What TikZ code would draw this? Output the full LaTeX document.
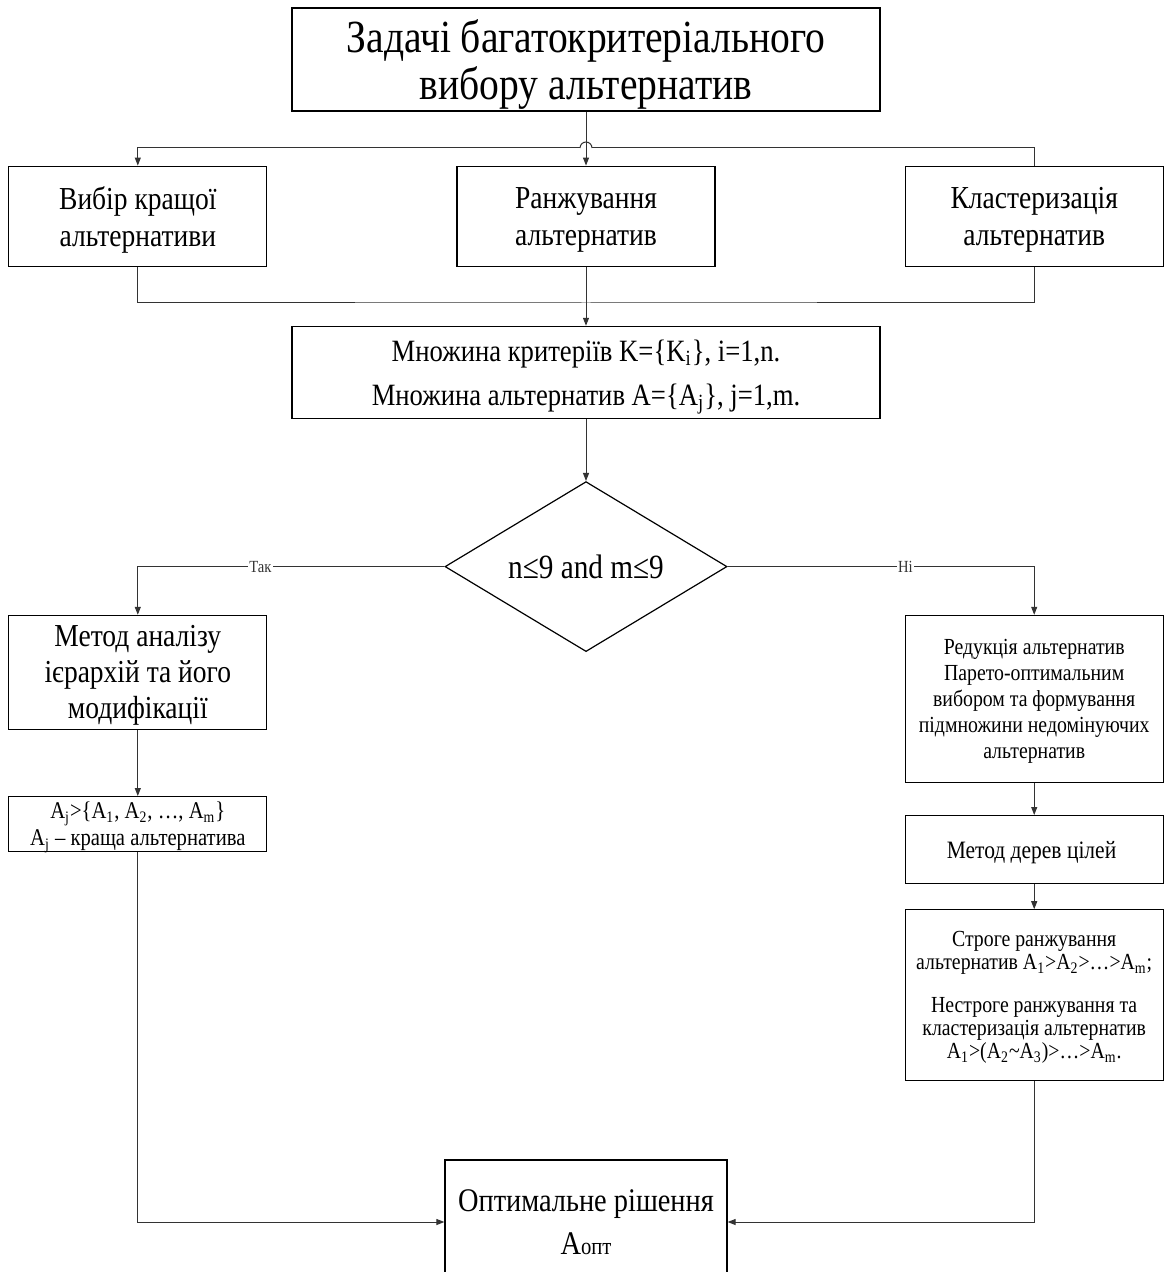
\documentclass[tikz,border=0pt]{standalone}
\usepackage{fontspec}
\setmainfont[FakeStretch=0.86]{Liberation Serif}
\usetikzlibrary{shapes.geometric, arrows.meta, positioning}

\newcommand{\fsz}[2]{\fontsize{#1}{#2}\selectfont}

\begin{document}
\begin{tikzpicture}[
  x=0.5pt, y=-0.5pt,
  box/.style={rectangle, draw=black, line width=0.6pt, align=center, inner sep=2pt,
              text depth=0pt},
  widebox/.style={box, minimum width=294pt},
  sidebox/.style={box, minimum width=129pt},
  decision/.style={diamond, draw=black, line width=0.6pt, minimum width=141pt,
                   minimum height=85pt, inner sep=0pt, font=\fsz{17}{18}},
  line/.style={line width=0.5pt, color=black!80},
  arrow/.style={line, -{Triangle[length=4pt, width=3pt]}},
  answer/.style={fill=white, inner sep=0.5pt, font=\fsz{8.5}{9}}
]
\useasboundingbox (0,0) rectangle (1164,1272);

\node[widebox, minimum height=51.5pt, font=\fsz{23}{23.5}] (task) at (586,59.5) {%
  Задачі багатокритеріального\\
  вибору альтернатив
};
\node[sidebox, minimum height=50pt, font=\fsz{16}{18.5}, below=27pt of task] (rank) {%
  Ранжування\\ альтернатив
};
\node[sidebox, minimum height=50pt, font=\fsz{16}{18.5}, left=94.5pt of rank] (best) {%
  Вибір кращої\\ альтернативи
};
\node[sidebox, minimum height=50pt, font=\fsz{16}{18.5}, right=94.5pt of rank] (cluster) {%
  Кластеризація\\ альтернатив
};
\node[widebox, minimum height=46pt, font=\fsz{15.5}{16}, below=29.5pt of rank] (sets) {%
  Множина критеріїв K=\{K\textsubscript{i}\}, i=1,n.\\[6pt]
  Множина альтернатив A=\{A\textsubscript{j}\}, j=1,m.
};
\node[decision, below=31pt of sets] (check) {\makebox[0pt]{n≤9 and m≤9}};

\node[sidebox, minimum height=57pt, font=\fsz{16}{18}, below=174pt of best] (ahp) {%
  Метод аналізу\\ ієрархій та його\\ модифікації
};
\node[sidebox, minimum height=27.5pt, font=\fsz{12}{12}, below=33pt of ahp] (choice) {%
  A\textsubscript{j}>\{A\textsubscript{1}, A\textsubscript{2}, …, A\textsubscript{m}\}\\[1.5pt]
  A\textsubscript{j} – краща альтернатива
};
\node[sidebox, minimum height=83.5pt, font=\fsz{11.5}{13}, below=174pt of cluster] (pareto) {%
  Редукція альтернатив\\ Парето-оптимальним\\ вибором та формування\\
  підмножини недомінуючих\\ альтернатив
};
\node[sidebox, minimum height=34pt, font=\fsz{12.5}{13}, below=16pt of pareto] (tree) {%
  Метод дерев цілей
};
\node[sidebox, minimum height=85.5pt, font=\fsz{11.5}{11.5}, below=12.5pt of tree] (order) {%
  Строге ранжування\\
  альтернатив A\textsubscript{1}>A\textsubscript{2}>…>A\textsubscript{m};\\[10pt]
  Нестроге ранжування та\\ кластеризація альтернатив\\
  A\textsubscript{1}>(A\textsubscript{2}\textasciitilde A\textsubscript{3})>…>A\textsubscript{m}.
};
\node[box, minimum width=141pt, minimum height=62pt, font=\fsz{16.5}{21.5}] (optimum) at (586,1222) {%
  Оптимальне рішення\\ A{\fsz{12}{12}опт}
};

% fan-out from the task box, with a hop over the vertical line
\coordinate (split) at (586,148);
\draw[arrow] (task) -- (rank);
\draw[arrow] ([xshift=-3pt]split) -| (best);
\draw[line] ([xshift=3pt]split) -| (cluster);
\draw[line] ([xshift=-3pt]split) arc[start angle=180, end angle=0, radius=3pt];

% fan-in to the sets box
\coordinate (merge) at (586,303);
\draw[line] (best.south) |- (merge) -| (cluster.south);
\draw[arrow] (rank) -- (sets);
\draw[arrow] (sets) -- (check);

\draw[arrow] (check.west) -| node[answer, pos=0.3] {Так} (ahp);
\draw[arrow] (check.east) -| node[answer, pos=0.29] {Ні} (pareto);
\draw[arrow] (ahp) -- (choice);
\draw[arrow] (pareto) -- (tree);
\draw[arrow] (tree) -- (order);
\draw[arrow] (choice.south) |- (optimum.west);
\draw[arrow] (order.south) |- (optimum.east);

\end{tikzpicture}
\end{document}
